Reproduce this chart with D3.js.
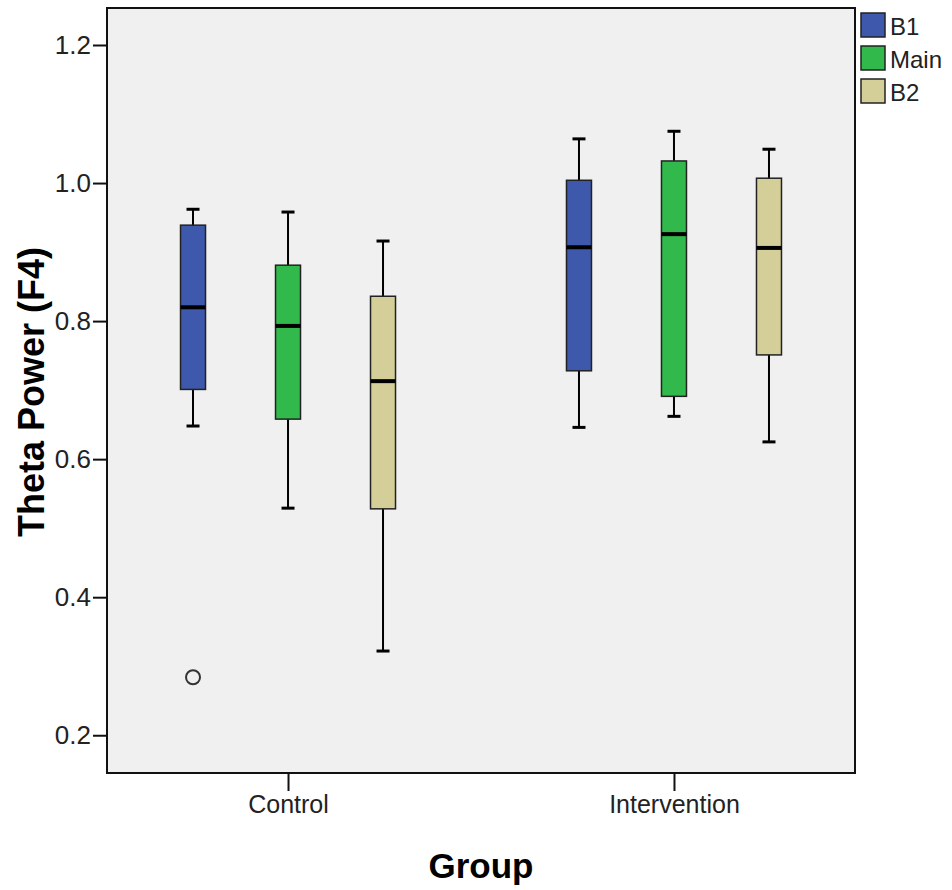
<!DOCTYPE html>
<html>
<head>
<meta charset="utf-8">
<script src="https://cdn.jsdelivr.net/npm/d3@7"></script>
<style>
  body { margin: 0; background: #fff; }
  text { font-family: "Liberation Sans", Arial, sans-serif; }
</style>
</head>
<body>
<svg id="chart" width="952" height="890"></svg>
<script>
var groups = ["Control", "Intervention"];
var phases = ["B1", "Main", "B2"];
var colors = ["#3e58ac", "#31b94b", "#d4cf98"];
var yTicks = [0.2, 0.4, 0.6, 0.8, 1.0, 1.2];

// [whiskerLow, q1, median, q3, whiskerHigh] per group, per phase
var controlStats = [
  [0.648, 0.701, 0.820, 0.939, 0.962],
  [0.529, 0.658, 0.793, 0.881, 0.958],
  [0.322, 0.528, 0.713, 0.836, 0.916]
];
var interventionStats = [
  [0.646, 0.728, 0.907, 1.004, 1.064],
  [0.662, 0.691, 0.926, 1.032, 1.075],
  [0.625, 0.751, 0.906, 1.007, 1.049]
];
var outliers = [{group: "Control", phase: "B1", value: 0.284}];

var margin = {top: 8, left: 107, right: 97, bottom: 117};
var width = 952 - margin.left - margin.right;
var height = 890 - margin.top - margin.bottom;

var svg = d3.select("#chart");
var chart = svg.append("g")
  .attr("transform", "translate(" + margin.left + "," + margin.top + ")");

var x = d3.scalePoint().domain(groups).range([0, width]).padding(0.469);
var y = d3.scaleLinear().domain([0.1453, 1.2536]).range([height, 0]);
var color = d3.scaleOrdinal().domain(phases).range(colors);

chart.append("rect")
  .attr("width", width).attr("height", height)
  .attr("fill", "#f0f0f0");

var data = [];
groups.forEach(function(g, gi) {
  var stats = gi === 0 ? controlStats : interventionStats;
  phases.forEach(function(p, pi) {
    var s = stats[pi];
    data.push({group: g, phase: p, lo: s[0], q1: s[1], med: s[2], q3: s[3], hi: s[4]});
  });
});

function cx(d) {
  // phase boxes are spread around the group center
  var offset = (phases.indexOf(d.phase) - 1) * 95;
  return x(d.group) + offset;
}
var boxW = 25, capW = 13;

var boxes = chart.selectAll(".box").data(data).enter().append("g").attr("class", "box");

boxes.append("line")
  .attr("x1", cx).attr("x2", cx)
  .attr("y1", function(d) { return y(d.hi); })
  .attr("y2", function(d) { return y(d.lo); })
  .attr("stroke", "#000").attr("stroke-width", 2);

boxes.append("line")
  .attr("x1", function(d) { return cx(d) - capW / 2; })
  .attr("x2", function(d) { return cx(d) + capW / 2; })
  .attr("y1", function(d) { return y(d.hi); })
  .attr("y2", function(d) { return y(d.hi); })
  .attr("stroke", "#000").attr("stroke-width", 3);

boxes.append("line")
  .attr("x1", function(d) { return cx(d) - capW / 2; })
  .attr("x2", function(d) { return cx(d) + capW / 2; })
  .attr("y1", function(d) { return y(d.lo); })
  .attr("y2", function(d) { return y(d.lo); })
  .attr("stroke", "#000").attr("stroke-width", 3);

boxes.append("rect")
  .attr("x", function(d) { return cx(d) - boxW / 2; })
  .attr("y", function(d) { return y(d.q3); })
  .attr("width", boxW)
  .attr("height", function(d) { return y(d.q1) - y(d.q3); })
  .attr("fill", function(d) { return color(d.phase); })
  .attr("stroke", "#222").attr("stroke-width", 1.5);

boxes.append("line")
  .attr("x1", function(d) { return cx(d) - boxW / 2; })
  .attr("x2", function(d) { return cx(d) + boxW / 2; })
  .attr("y1", function(d) { return y(d.med); })
  .attr("y2", function(d) { return y(d.med); })
  .attr("stroke", "#000").attr("stroke-width", 4);

chart.selectAll(".outlier").data(outliers).enter().append("circle")
  .attr("class", "outlier")
  .attr("cx", cx)
  .attr("cy", function(d) { return y(d.value); })
  .attr("r", 7)
  .attr("fill", "none").attr("stroke", "#333").attr("stroke-width", 2);

// frame
chart.append("rect")
  .attr("width", width).attr("height", height)
  .attr("fill", "none").attr("stroke", "#111").attr("stroke-width", 2);

var yAxis = d3.axisLeft(y).tickValues(yTicks).tickFormat(d3.format(".1f")).tickSize(14).tickPadding(2);
var yg = chart.append("g").call(yAxis);
yg.select(".domain").remove();
yg.selectAll("line").attr("stroke", "#111").attr("stroke-width", 2);
yg.selectAll("text").attr("font-size", 26).attr("fill", "#222")
  .attr("font-family", "Liberation Sans, Arial, sans-serif");

var xAxis = d3.axisBottom(x).tickSize(18).tickPadding(4);
var xg = chart.append("g").attr("transform", "translate(0," + height + ")").call(xAxis);
xg.select(".domain").remove();
xg.selectAll("line").attr("stroke", "#111").attr("stroke-width", 2);
xg.selectAll("text").attr("font-size", 25).attr("fill", "#222")
  .attr("font-family", "Liberation Sans, Arial, sans-serif");

svg.append("text")
  .attr("transform", "translate(44,392) rotate(-90)")
  .attr("text-anchor", "middle")
  .attr("font-size", 36).attr("font-weight", "bold")
  .text("Theta Power (F4)");

svg.append("text")
  .attr("x", 481).attr("y", 878)
  .attr("text-anchor", "middle")
  .attr("font-size", 35).attr("font-weight", "bold")
  .text("Group");

// legend
var legend = svg.append("g").attr("transform", "translate(861,13)");
var li = legend.selectAll(".item").data(phases).enter().append("g")
  .attr("transform", function(d, i) { return "translate(0," + (i * 33) + ")"; });
li.append("rect")
  .attr("width", 24).attr("height", 24)
  .attr("fill", function(d) { return color(d); })
  .attr("stroke", "#222").attr("stroke-width", 1.5);
li.append("text")
  .attr("x", 29).attr("y", 22)
  .attr("font-size", 24).attr("fill", "#222")
  .text(function(d) { return d; });
</script>
</body>
</html>
